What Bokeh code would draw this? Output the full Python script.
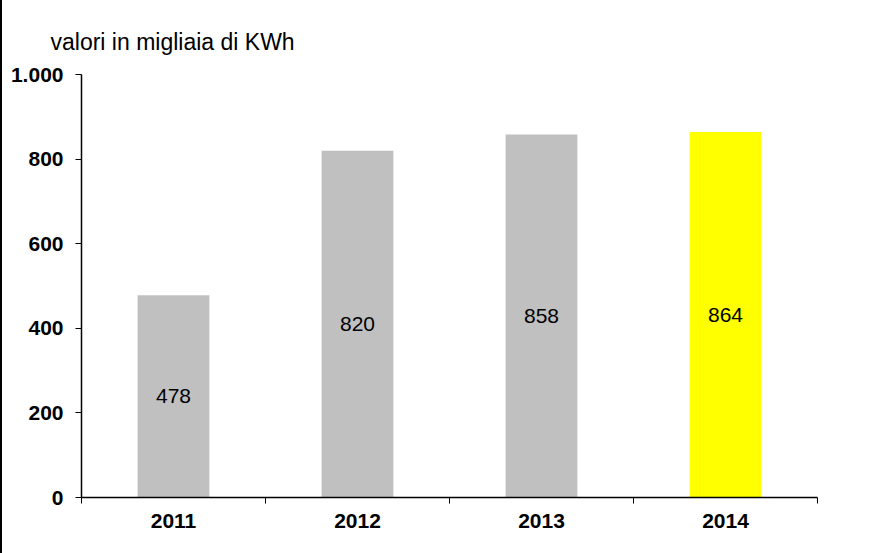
from bokeh.plotting import figure
from bokeh.models import ColumnDataSource, FixedTicker, Div, Range1d
from bokeh.layouts import row
from bokeh.embed import file_html
from bokeh.resources import INLINE
from bokeh.core.properties import value

years = ["2011", "2012", "2013", "2014"]
values = [478, 820, 858, 864]
colors = ["#C0C0C0", "#C0C0C0", "#C0C0C0", "#FFFF00"]
y_ticks = [0, 200, 400, 600, 800, 1000]
y_tick_labels = ["0", "200", "400", "600", "800", "1.000"]
title_text = "valori in migliaia di KWh"

xs = [i + 0.5 for i in range(len(years))]
src = ColumnDataSource(dict(x=xs, top=values, mid=[v / 2 for v in values],
                            color=colors, lab=[str(v) for v in values]))

FONT = "Liberation Sans"

p = figure(width=869, height=553, output_backend="svg", toolbar_location=None,
           x_range=Range1d(0, len(years)), y_range=Range1d(0, 1000),
           min_border_left=79, min_border_right=54, min_border_top=74, min_border_bottom=56,
           title=title_text, margin=(0, 0, 0, 0))
p.title.text_font = FONT
p.title.text_font_size = "23px"
p.title.text_font_style = "normal"
p.title.text_color = "black"
p.title.align = "left"
p.title.offset = -31
p.title.standoff = 40
p.outline_line_color = None
p.grid.grid_line_color = None
p.background_fill_color = "white"
p.border_fill_color = "white"

p.vbar(x="x", top="top", width=0.39, bottom=0, color="color", line_color=None, source=src)
p.text(x="x", y="mid", text="lab", source=src, text_align="center", text_baseline="middle",
       text_font=value(FONT), text_font_size="21px", text_color="black")

xa = p.xaxis[0]
xa.ticker = FixedTicker(ticks=xs, minor_ticks=list(range(len(years) + 1)))
xa.major_label_overrides = {x: y for x, y in zip(xs, years)}
xa.major_tick_line_color = None
xa.minor_tick_in = 0
xa.minor_tick_out = 6
xa.minor_tick_line_color = "black"
xa.axis_line_color = "black"
xa.axis_line_width = 1.5
xa.major_label_text_font = FONT
xa.major_label_text_font_style = "bold"
xa.major_label_text_font_size = "21px"
xa.major_label_text_color = "black"
xa.major_label_standoff = 10

ya = p.yaxis[0]
ya.ticker = FixedTicker(ticks=y_ticks, minor_ticks=[])
ya.major_label_overrides = {t: l for t, l in zip(y_ticks, y_tick_labels)}
ya.major_tick_in = 0
ya.major_tick_out = 6
ya.major_tick_line_color = "black"
ya.axis_line_color = "black"
ya.axis_line_width = 1.5
ya.major_label_text_font = FONT
ya.major_label_text_font_style = "bold"
ya.major_label_text_font_size = "21px"
ya.major_label_text_color = "black"
ya.major_label_standoff = 12

border = Div(width=2, height=553, margin=(0, 0, 0, 0), styles={"background-color": "black"})
layout = row(border, p, spacing=0, margin=(0, 0, 0, 0))

open("out.html", "w").write(file_html(layout, INLINE))
